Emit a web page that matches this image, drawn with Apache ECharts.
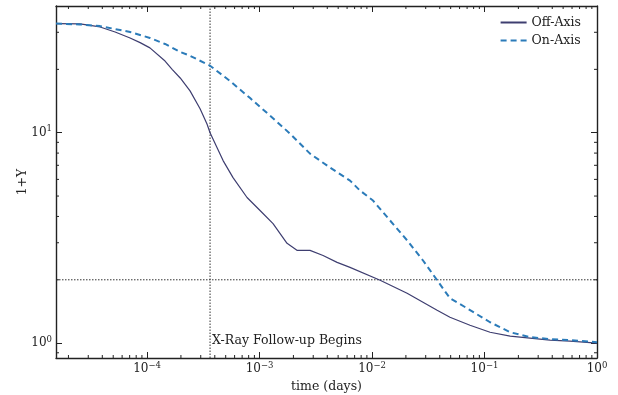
<!DOCTYPE html>
<html><head><meta charset="utf-8">
<script src="https://cdn.jsdelivr.net/npm/echarts@6/dist/echarts.min.js"></script>
<style>html,body{margin:0;padding:0;background:#fff}#c{width:618px;height:395px}</style>
</head><body><div id="c"></div>
<script>
// ---- data ----
const offTime = [1.55e-5, 2.53e-5, 3.82e-5, 5.2e-5, 7.06e-5, 8.67e-5, 1.06e-4, 1.445e-4, 1.67e-4, 1.97e-4, 2.41e-4, 2.96e-4, 3.41e-4, 3.63e-4, 4.74e-4, 5.81e-4, 7.74e-4, 1.01e-3, 1.318e-3, 1.755e-3, 2.15e-3, 2.81e-3, 3.67e-3, 4.89e-3, 6.37e-3, 1.18e-2, 2.05e-2, 3.79e-2, 4.93e-2, 7.43e-2, 0.112, 0.169, 0.254, 0.382, 0.575, 1.0];
const offY    = [33.0, 32.9, 31.8, 30.1, 28.2, 26.8, 25.3, 21.9, 20.0, 18.2, 15.8, 13.0, 11.0, 10.0, 7.37, 6.12, 4.92, 4.27, 3.70, 2.98, 2.76, 2.76, 2.61, 2.42, 2.29, 1.99, 1.726, 1.433, 1.328, 1.217, 1.127, 1.079, 1.056, 1.033, 1.022, 1.0];
const onTime  = [1.55e-5, 2.53e-5, 3.82e-5, 7.06e-5, 1.06e-4, 1.445e-4, 1.97e-4, 2.41e-4, 3.63e-4, 5.47e-4, 8.24e-4, 1.24e-3, 1.87e-3, 2.81e-3, 4.24e-3, 6.37e-3, 7.82e-3, 1.02e-2, 1.445e-2, 2.05e-2, 2.84e-2, 3.79e-2, 4.93e-2, 6.99e-2, 0.112, 0.169, 0.254, 0.382, 0.575, 1.0];
const onY     = [33.0, 32.7, 32.1, 30.1, 28.2, 26.4, 24.2, 23.2, 20.8, 17.6, 14.6, 12.05, 9.89, 7.95, 6.82, 5.92, 5.31, 4.76, 3.83, 3.08, 2.47, 1.99, 1.634, 1.465, 1.257, 1.127, 1.068, 1.045, 1.033, 1.011];
const xRayStart = 3.63e-4;
const thresholdY = 2;
const xMinorTicks = [2e-5,3e-5,4e-5,5e-5,6e-5,7e-5,8e-5,9e-5, 2e-4,3e-4,4e-4,5e-4,6e-4,7e-4,8e-4,9e-4, 2e-3,3e-3,4e-3,5e-3,6e-3,7e-3,8e-3,9e-3, 2e-2,3e-2,4e-2,5e-2,6e-2,7e-2,8e-2,9e-2, 0.2,0.3,0.4,0.5,0.6,0.7,0.8,0.9];
const yMinorTicks = [0.9, 2,3,4,5,6,7,8,9, 20,30];
const xMin = 1.55e-5, xMax = 1, yMin = 0.85, yMax = 40;
const seriesNames = ['Off-Axis', 'On-Axis'];
const xLabel = 'time (days)', yLabel = '1+Y', vLineLabel = 'X-Ray Follow-up Begins';

// ---- chart ----
const FONT = 'DejaVu Serif';
const INK = '#222';
function pow10Label(v) {
  const e = Math.round(Math.log10(v));
  return '10{s|' + (e < 0 ? '\u2212' + (-e) : e) + '}';
}
const richSup = { s: { fontSize: 8.5, fontFamily: FONT, color: INK, padding: [0, 0, 7, 0] } };
function mkX(pos, labels) {
  return {
    type: 'log', min: xMin, max: xMax, position: pos,
    axisLine: { show: true, onZero: false, lineStyle: { color: INK, width: 1.4 } },
    axisTick: { show: true, inside: true, length: 6, lineStyle: { color: INK, width: 1 } },
    axisLabel: { show: labels, margin: 3, showMinLabel: false, fontFamily: FONT, fontSize: 12, color: INK, formatter: pow10Label, rich: richSup },
    splitLine: { show: false },
    name: labels ? xLabel : '', nameLocation: 'middle', nameGap: 22,
    nameTextStyle: { fontFamily: FONT, fontSize: 12.5, color: INK }
  };
}
function mkY(pos, labels) {
  return {
    type: 'log', min: yMin, max: yMax, position: pos,
    axisLine: { show: true, onZero: false, lineStyle: { color: INK, width: 1.4 } },
    axisTick: { show: true, inside: true, length: 6, lineStyle: { color: INK, width: 1 } },
    axisLabel: { show: labels, margin: 4, showMinLabel: false, showMaxLabel: false, fontFamily: FONT, fontSize: 12, color: INK, formatter: pow10Label, rich: richSup },
    splitLine: { show: false },
    name: labels ? yLabel : '', nameLocation: 'middle', nameGap: 27, nameRotate: 90, nameMoveOverlap: false,
    nameTextStyle: { fontFamily: FONT, fontSize: 12.5, color: INK }
  };
}
function minorX(params, api) {
  const v = api.value(0);
  const b = api.coord([v, yMin]);
  const t = api.coord([v, yMax]);
  const st = { stroke: INK, lineWidth: 1 };
  return { type: 'group', children: [
    { type: 'line', shape: { x1: b[0], y1: b[1], x2: b[0], y2: b[1] - 3 }, style: st },
    { type: 'line', shape: { x1: t[0], y1: t[1], x2: t[0], y2: t[1] + 3 }, style: st }
  ]};
}
function minorY(params, api) {
  const v = api.value(1);
  const l = api.coord([xMin, v]);
  const r = api.coord([xMax, v]);
  const st = { stroke: INK, lineWidth: 1 };
  return { type: 'group', children: [
    { type: 'line', shape: { x1: l[0], y1: l[1], x2: l[0] + 3, y2: l[1] }, style: st },
    { type: 'line', shape: { x1: r[0], y1: r[1], x2: r[0] - 3, y2: r[1] }, style: st }
  ]};
}
const guideStyle = { type: [1.5, 1.5], color: '#333', width: 1 };
const chart = echarts.init(document.getElementById('c'), null, { renderer: 'canvas' });
chart.setOption({
  backgroundColor: '#fff',
  animation: false,
  grid: { left: 56, right: 21, top: 6, bottom: 37, containLabel: false, outerBoundsMode: 'none' },
  legend: {
    data: seriesNames, orient: 'vertical', right: 32, top: 11,
    itemWidth: 26, itemHeight: 10, itemGap: 5,
    itemStyle: { opacity: 0 },
    textStyle: { fontFamily: FONT, fontSize: 12.5, color: INK }
  },
  xAxis: [mkX('bottom', true), mkX('top', false)],
  yAxis: [mkY('left', true), mkY('right', false)],
  series: [
    {
      name: 'xray', type: 'line', silent: true, showSymbol: false, symbol: 'none',
      data: [[xRayStart, yMin], [xRayStart, yMax]], lineStyle: guideStyle, z: 1,
      markPoint: {
        silent: true, symbol: 'circle', symbolSize: 0,
        data: [{ coord: [xRayStart, 1.03], value: vLineLabel }],
        label: { show: true, position: 'right', distance: 2, formatter: vLineLabel, fontFamily: FONT, fontSize: 12.5, color: INK }
      }
    },
    {
      name: 'thresh', type: 'line', silent: true, showSymbol: false, symbol: 'none',
      data: [[xMin, thresholdY], [xMax, thresholdY]], lineStyle: guideStyle, z: 1
    },
    {
      name: seriesNames[0], type: 'line', showSymbol: false, symbol: 'none',
      data: offTime.map((t, i) => [t, offY[i]]),
      lineStyle: { color: '#3e3e70', width: 1.2 }, itemStyle: { color: '#3e3e70' }
    },
    {
      name: seriesNames[1], type: 'line', showSymbol: false, symbol: 'none',
      data: onTime.map((t, i) => [t, onY[i]]),
      lineStyle: { color: '#2b7bb9', width: 2, type: [6, 4] }, itemStyle: { color: '#2b7bb9' }
    },
    { type: 'custom', silent: true, clip: false, renderItem: minorX, data: xMinorTicks.map(v => [v, yMin]), encode: { x: 0, y: 1 } },
    { type: 'custom', silent: true, clip: false, renderItem: minorY, data: yMinorTicks.map(v => [xMin, v]), encode: { x: 0, y: 1 } }
  ]
});
</script></body></html>
